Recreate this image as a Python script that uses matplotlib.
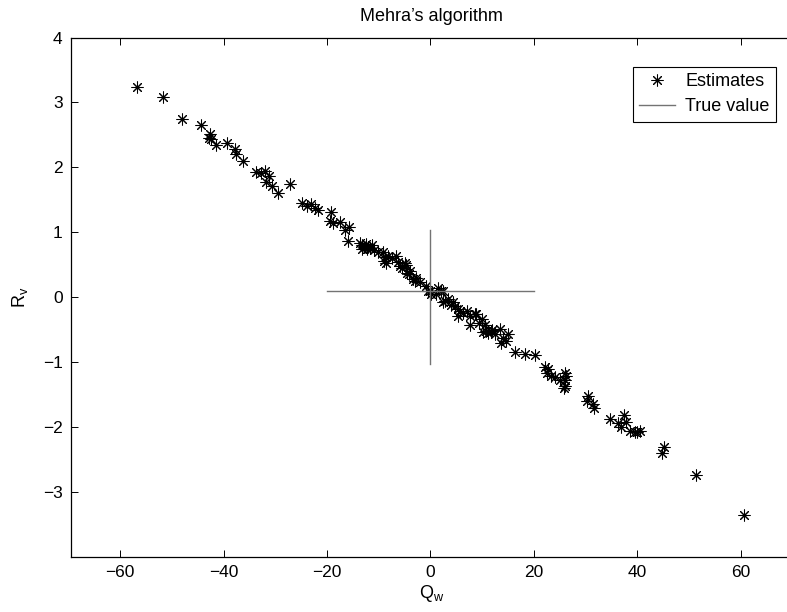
import numpy as np
import matplotlib
matplotlib.use('Agg')
import matplotlib.pyplot as plt

plt.rcParams['font.family'] = ['Liberation Sans', 'DejaVu Sans']

# estimates (Q_w, R_v)
q_est = [-56.7, -51.7, -48.1, -44.3, -42.6, -42.9, -42.4, -41.4, -39.4, -37.7,
         -37.5, -36.2, -33.8, -32.8, -32.0, -31.7, -31.2, -30.7, -29.4, -27.1,
         -24.8, -23.9, -23.0, -22.3, -21.7, -19.2, -19.5, -18.8, -17.4, -16.5,
         -15.8, -15.9, -13.7, -13.3, -12.4, -12.0, -12.2, -11.3, -13.2, -12.8,
         -11.6, -10.9, -9.2, -8.8, -8.2, -6.6, -8.6, -8.9, -5.9, -4.7,
         -5.4, -4.0, -4.2, -5.0, -4.6, -3.4, -2.7, -2.1, -0.8, -0.5,
         -0.1, 0.1, 1.5, 2.1, 2.4, 2.4, 2.8, 3.4, 4.4, 4.7,
         5.3, 5.7, 5.3, 7.0, 7.6, 7.6, 8.6, 8.9, 9.9, 10.5,
         10.8, 10.2, 11.8, 11.2, 12.4, 13.4, 14.0, 14.7, 15.0, 13.7,
         16.3, 18.2, 20.2, 22.1, 22.8, 22.5, 23.4, 24.0, 25.0, 26.0,
         26.1, 26.0, 26.3, 25.9, 30.4, 30.2, 31.4, 31.7, 34.8, 36.3,
         36.8, 37.4, 37.9, 38.6, 40.0, 40.6, 39.6, 45.2, 44.8, 51.3,
         60.7, -6.2, -3.0, 1.0, 3.9, 6.3, 9.3, 12.0, -10.2, -7.4]
r_est = [3.24, 3.09, 2.75, 2.65, 2.52, 2.46, 2.43, 2.35, 2.37, 2.28,
         2.20, 2.10, 1.93, 1.92, 1.94, 1.77, 1.87, 1.72, 1.61, 1.75,
         1.45, 1.40, 1.43, 1.38, 1.35, 1.32, 1.17, 1.15, 1.16, 1.04,
         1.08, 0.86, 0.84, 0.80, 0.82, 0.78, 0.74, 0.80, 0.74, 0.78,
         0.76, 0.72, 0.69, 0.62, 0.64, 0.64, 0.52, 0.56, 0.48, 0.50,
         0.45, 0.40, 0.36, 0.52, 0.38, 0.28, 0.30, 0.23, 0.17, 0.10,
         0.10, 0.05, 0.15, 0.09, -0.08, 0.10, -0.06, -0.03, -0.08, -0.13,
         -0.18, -0.21, -0.29, -0.21, -0.29, -0.42, -0.26, -0.26, -0.34, -0.42,
         -0.52, -0.54, -0.52, -0.55, -0.57, -0.49, -0.62, -0.67, -0.57, -0.70,
         -0.84, -0.88, -0.89, -1.08, -1.11, -1.17, -1.21, -1.23, -1.28, -1.16,
         -1.28, -1.36, -1.22, -1.40, -1.52, -1.60, -1.65, -1.70, -1.88, -1.93,
         -2.00, -1.81, -1.92, -2.06, -2.08, -2.06, -2.07, -2.30, -2.40, -2.73,
         -3.35, 0.55, 0.25, 0.05, -0.12, -0.25, -0.40, -0.50, 0.70, 0.60]

# true value cross
true_q = [-20, 20]
true_q_y = [0.1, 0.1]
true_r_x = [0, 0]
true_r = [-1.03, 1.04]

fig = plt.figure(figsize=(7.87, 6.12), dpi=100)
ax = fig.add_axes([71 / 787, 55 / 612, 721.4 / 787, 519.5 / 612])

ax.plot(q_est, r_est, linestyle='none', marker=(8, 2, 0), markersize=8.5,
        markeredgewidth=0.75, color='k', label='Estimates')
ax.plot(true_q, true_q_y, color='0.45', linewidth=1.0, label='True value')
ax.plot(true_r_x, true_r, color='0.45', linewidth=1.0)

ax.set_xlim(-69.5, 70)
ax.set_ylim(-4, 4)
ax.set_xticks([-60, -40, -20, 0, 20, 40, 60])
ax.set_yticks([-3, -2, -1, 0, 1, 2, 3, 4])
ax.set_xticklabels(['\u221260', '\u221240', '\u221220', '0', '20', '40', '60'])
ax.set_yticklabels(['\u22123', '\u22122', '\u22121', '0', '1', '2', '3', '4'])
ax.tick_params(direction='in', length=5, width=0.7, top=True, right=False,
               labelsize=12.5, pad=6)
for s in ax.spines.values():
    s.set_linewidth(0.9)
ax.spines['right'].set_visible(False)  # cut off by the picture edge

ax.set_title('Mehra\u2019s algorithm', fontsize=13, pad=12)
ax.set_xlabel(r'Q$_{\mathregular{w}}$', fontsize=13, labelpad=2)
ax.set_ylabel(r'R$_{\mathregular{v}}$', fontsize=13, labelpad=9)

leg = ax.legend(loc='upper right', bbox_to_anchor=(776 / 787, 1 - 67 / 612),
                bbox_transform=fig.transFigure, fancybox=False,
                edgecolor='k', framealpha=1, fontsize=13, handlelength=2.0,
                borderaxespad=0, handletextpad=0.55, labelspacing=0.45,
                borderpad=0.35)
leg.get_frame().set_linewidth(0.8)

fig.savefig('out.png', dpi=100)
